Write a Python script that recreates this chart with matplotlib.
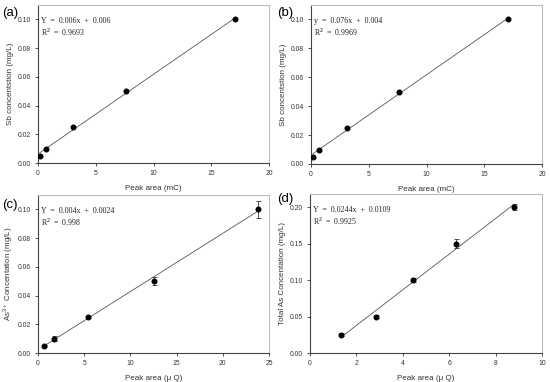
import matplotlib
matplotlib.use('Agg')
import matplotlib.pyplot as plt
import numpy as np

plt.rcParams['font.family'] = ['Liberation Sans', 'DejaVu Sans']
plt.rcParams['mathtext.fontset'] = 'custom'
plt.rcParams['mathtext.rm'] = 'Liberation Sans'

# ---- data ----
conc_sb = [0.005, 0.01, 0.025, 0.05, 0.10]
area_a = [0.15, 0.7, 3.05, 7.65, 17.05]
area_b = [0.15, 0.7, 3.1, 7.65, 17.05]

area_c = [0.7, 1.7, 5.4, 12.5, 23.8]
conc_c = [0.005, 0.01, 0.025, 0.05, 0.10]
err_c = [0.0005, 0.0015, 0.0008, 0.003, 0.006]

area_d = [1.35, 2.85, 4.45, 6.3, 8.8]
conc_d = [0.025, 0.05, 0.10, 0.15, 0.20]
err_d = [0.002, 0.002, 0.003, 0.006, 0.004]

eq_a = ['Y  =  0.006x  +  0.006', 'R$^2$  =  0.9693']
eq_b = ['y  =  0.076x  +  0.004', 'R$^2$  =  0.9969']
eq_c = ['Y  =  0.004x  +  0.0024', 'R$^2$  =  0.998']
eq_d = ['Y  =  0.0244x  +  0.0109', 'R$^2$  =  0.9925']

W, H = 550, 382
fig = plt.figure(figsize=(W / 100, H / 100), dpi=100, facecolor='white')


def make_ax(l, r, t, b):
    return fig.add_axes([l / W, (H - b) / H, (r - l) / W, (b - t) / H])


def style(ax, xlim, ylim, xticks, yticks, yfmt):
    ax.set_xlim(*xlim)
    ax.set_ylim(*ylim)
    ax.set_xticks(xticks)
    ax.set_yticks(yticks)
    ax.set_yticklabels([yfmt.format(v) for v in yticks])
    ax.tick_params(direction='out', length=2, width=0.6, labelsize=4.9,
                   colors='#333333', pad=3)
    ax.spines['left'].set_color('#444444')
    ax.spines['bottom'].set_color('#444444')
    ax.spines['top'].set_color('#bbbbbb')
    ax.spines['right'].set_color('#bbbbbb')
    for s in ax.spines.values():
        s.set_linewidth(0.8)


def draw(ax, x, y, yerr=None):
    x = np.asarray(x)
    y = np.asarray(y)
    k, c = np.polyfit(x, y, 1)
    xs = np.array([x.min(), x.max()])
    ax.plot(xs, k * xs + c, color='#555555', lw=0.6, zorder=2)
    if yerr is None:
        ax.plot(x, y, 'o', color='black', ms=3.3, zorder=3)
    else:
        ax.errorbar(x, y, yerr=yerr, fmt='o', color='black', ms=3.3,
                    ecolor='#333333', elinewidth=0.6, capsize=1.8,
                    capthick=0.6, zorder=3)


def equation(ax, lines):
    for i, s in enumerate(lines):
        ax.text(0.015, 0.9 - i * 0.07, s, transform=ax.transAxes,
                fontsize=5.7, color='#222222', va='center', ha='left',
                family='Liberation Serif')


lab_kw = dict(fontsize=5.8, color='#333333')

# (a)
ax = make_ax(38, 269, 5, 163)
draw(ax, area_a, conc_sb)
style(ax, (0, 20), (0, 0.11), [0, 5, 10, 15, 20],
      [0, 0.02, 0.04, 0.06, 0.08, 0.10], '{:.2f}')
equation(ax, eq_a)
ax.set_xlabel('Peak area (mC)', labelpad=6, **lab_kw)
ax.set_ylabel('Sb concentstion (mg/L)', labelpad=3, **lab_kw)
fig.text(2 / W, 1 - 13 / H, '(a)', fontsize=9.5, va='center', ha='left')

# (b)
ax = make_ax(311, 542, 5, 164)
draw(ax, area_b, conc_sb)
style(ax, (0, 20), (0, 0.11), [0, 5, 10, 15, 20],
      [0, 0.02, 0.04, 0.06, 0.08, 0.10], '{:.2f}')
equation(ax, eq_b)
ax.set_xlabel('Peak area (mC)', labelpad=6, **lab_kw)
ax.set_ylabel('Sb concentstion (mg/L)', labelpad=3, **lab_kw)
fig.text(277 / W, 1 - 13 / H, '(b)', fontsize=9.5, va='center', ha='left')

# (c)
ax = make_ax(38, 269, 195, 353)
draw(ax, area_c, conc_c, err_c)
style(ax, (0, 25), (0, 0.11), [0, 5, 10, 15, 20, 25],
      [0, 0.02, 0.04, 0.06, 0.08, 0.10], '{:.2f}')
equation(ax, eq_c)
ax.set_xlabel('Peak area (\u03bc Q)', labelpad=6, **lab_kw)
ax.set_ylabel('As$^{3+}$ Concentation (mg/L)', labelpad=2, **lab_kw)
fig.text(2 / W, 1 - 205 / H, '(c)', fontsize=9.5, va='center', ha='left')

# (d)
ax = make_ax(310, 542, 194, 353)
draw(ax, area_d, conc_d, err_d)
style(ax, (0, 10), (0, 0.218), [0, 2, 4, 6, 8, 10],
      [0, 0.05, 0.10, 0.15, 0.20], '{:.2f}')
equation(ax, eq_d)
ax.set_xlabel('Peak area (\u03bc Q)', labelpad=6, **lab_kw)
ax.set_ylabel('Total As Concentation (mg/L)', labelpad=3, **lab_kw)
fig.text(277 / W, 1 - 199 / H, '(d)', fontsize=9.5, va='center', ha='left')

fig.savefig('out.png', dpi=100, facecolor='white')
plt.close()
